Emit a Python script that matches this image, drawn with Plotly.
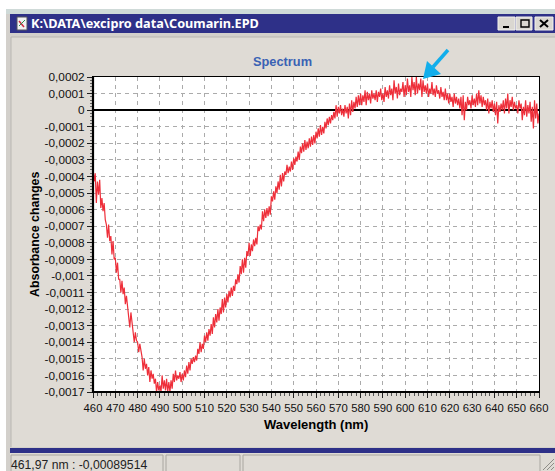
import numpy as np
import plotly.graph_objects as go

W, H = 555, 471
# Absorbance changes in units of 1e-4, one row per 10 nm (0.5 nm step)
absorbance_e4 = [
 -3.6,-4.3,-3.8,-5.6,-4.3,-5.1,-4.2,-5.9,-5.3,-6.1,-5.6,-6.6,-6.9,-7.7,-6.9,-7.9,-7.6,-8.7,-7.9,-9.0,
 -8.9,-9.8,-9.2,-10.2,-10.2,-11.0,-10.3,-11.1,-10.7,-11.7,-11.2,-11.9,-12.3,-13.1,-12.2,-12.9,-13.2,-14.0,-13.4,-13.9,
 -14.0,-14.6,-14.1,-14.5,-14.9,-15.7,-15.0,-15.6,-15.3,-16.0,-15.5,-16.4,-15.7,-16.2,-15.9,-16.5,-16.2,-17.0,-16.4,-16.9,
 -16.6,-17.0,-16.0,-16.8,-16.3,-16.9,-16.2,-17.0,-16.4,-17.0,-16.3,-16.8,-15.9,-16.4,-15.7,-16.3,-16.0,-16.2,-15.8,-16.4,
 -15.9,-16.3,-15.7,-16.1,-15.4,-15.9,-15.2,-15.7,-15.0,-15.3,-14.9,-15.2,-14.8,-15.1,-14.4,-14.7,-14.0,-14.6,-14.1,-14.4,
 -13.6,-14.0,-13.4,-13.9,-13.2,-13.6,-12.9,-13.5,-12.5,-13.1,-12.3,-12.8,-12.0,-12.7,-11.9,-12.3,-11.4,-12.2,-11.3,-11.9,
 -11.1,-11.6,-10.9,-11.3,-10.7,-11.2,-10.6,-10.9,-10.2,-10.5,-9.9,-10.4,-9.4,-9.9,-9.0,-9.8,-8.9,-9.5,-8.5,-8.8,
 -8.0,-8.8,-8.1,-8.5,-7.8,-8.2,-7.7,-8.1,-7.0,-7.3,-6.9,-7.2,-6.1,-6.7,-6.0,-6.5,-5.9,-6.4,-5.8,-6.3,
 -5.2,-5.5,-4.9,-5.4,-4.6,-5.0,-4.3,-4.8,-3.9,-4.6,-3.8,-4.3,-3.7,-3.9,-3.3,-3.8,-3.4,-3.7,-3.1,-3.6,
 -2.9,-3.3,-2.8,-3.1,-2.5,-3.0,-2.2,-2.6,-2.0,-2.5,-1.8,-2.4,-1.9,-2.3,-1.7,-2.2,-1.6,-2.1,-1.5,-2.0,
 -1.3,-1.7,-1.1,-1.6,-.9,-1.5,-1.0,-1.4,-.7,-1.1,-.5,-.9,-.4,-.8,-.3,-.6,-.1,-.5,.3,-.4,
 .2,-.2,.3,-.3,.1,-.4,.3,-.2,.2,-.5,.4,-.3,.6,-.1,.5,.1,.8,.2,.9,.3,
 1.0,.3,.9,.5,1.2,.3,1.1,.6,1.0,.4,1.2,.7,1.0,.6,1.2,.5,1.1,.8,1.3,.6,
 1.0,.5,1.4,.8,1.2,.7,1.5,.9,1.3,.6,1.8,1.0,1.4,.7,1.6,.9,1.3,1.1,1.7,.8,
 1.5,.9,1.9,1.1,1.5,.8,2.0,1.2,1.7,.9,2.0,1.0,1.6,1.2,1.9,.8,1.8,1.1,1.5,1.0,
 1.6,.8,1.3,1.0,1.7,.9,1.3,.8,1.5,1.0,1.2,.7,1.4,.8,1.1,.6,1.3,.6,1.0,.4,
 1.0,.5,.8,.2,1.0,.4,.8,.3,.7,.1,.8,-.3,.9,-.6,.5,.0,.8,.3,.6,.1,
 .9,.3,.7,.2,1.0,.3,1.2,.4,.9,.2,.8,.3,.6,.0,.7,-.2,.5,.1,.6,-.1,
 .4,-.3,.5,-.8,.3,-.1,.4,.0,.6,-.2,.7,.1,1.0,-.2,.6,.2,.8,.0,.5,.1,
 .3,-.2,.6,.1,.4,-.6,.2,-.3,.6,-.4,.3,-.2,.5,-.7,.2,-1.1,.6,-.5,.4,-.8,-.2,
]
wavelength = [460 + 0.5 * i for i in range(len(absorbance_e4))]
absorbance = [v * 1e-4 for v in absorbance_e4]

x_ticks = list(range(460, 661, 10))
y_tick_vals = [round(k * 1e-4, 4) for k in range(2, -18, -1)]
y_tick_text = ["0,0002","0,0001","0","-0,0001","-0,0002","-0,0003","-0,0004","-0,0005","-0,0006",
               "-0,0007","-0,0008","-0,0009","-0,001","-0,0011","-0,0012","-0,0013","-0,0014",
               "-0,0015","-0,0016","-0,0017"]

L, R, T, B = 93, 539, 77, 392
FONT = "Liberation Sans"
BG = "#DFDBD5"
NAVY = "#2E3088"

def px(x): return (x - L) / (R - L)
def py(y): return (B - y) / (B - T)
shapes = []
def rect(x0, y0, x1, y1, fill=None, line=None, lw=1, layer="below"):
    shapes.append(dict(type="rect", xref="paper", yref="paper", x0=px(x0), x1=px(x1), y0=py(y0), y1=py(y1),
                       fillcolor=fill or "rgba(0,0,0,0)", line=dict(color=line or "rgba(0,0,0,0)", width=lw if line else 0), layer=layer))
def seg(x0, y0, x1, y1, color, lw=1, layer="below"):
    shapes.append(dict(type="line", xref="paper", yref="paper", x0=px(x0), x1=px(x1), y0=py(y0), y1=py(y1),
                       line=dict(color=color, width=lw), layer=layer))

# window chrome
rect(6, 9, 555, 471, fill="#D3D0CB")
rect(6, 9, 555, 14, fill="#CFDAD8")
rect(10, 14, 555, 33, fill=NAVY)
rect(11, 37, 555, 447, fill=BG)
seg(11, 37, 555, 37, "#B9B7B2", 1)
seg(11, 37, 11, 447, "#B9B7B2", 1)
rect(10, 448, 555, 453, fill=NAVY)
rect(10, 453, 555, 471, fill=BG)
rect(11, 455, 163, 472, line="#A9A6A0")
rect(166, 455, 240, 472, line="#A9A6A0")
rect(243, 455, 540, 472, line="#A9A6A0")
rect(L, T, R, B, fill="white")
# title bar icon
rect(17, 17, 27, 30, fill="#F2F2F2", line="#55555F")
seg(19, 21, 24, 27, "#D02A40", 1.5, "above")
seg(19, 26, 25, 20, "#2F8F50", 1, "above")
# title bar buttons
for a, b in [(498, 515), (516, 532), (535, 553)]:
    rect(a, 17, b, 30, fill="#DAD7D1", line="#F2F1EE")
seg(503, 27, 509, 27, "#000", 2, "above")
rect(521, 20, 529, 27, line="#000", lw=1.4, layer="above")
seg(540, 20, 548, 27, "#000", 2, "above")
seg(548, 20, 540, 27, "#000", 2, "above")
# resize grip
for d in (3, 7, 11):
    seg(554 - d, 470, 554, 470 - d, "#8E8C87", 1)
# heavier left and bottom plot frame
seg(L, T, L, B, "#000", 2.2, "above")
seg(L, B, R, B, "#000", 2.2, "above")
# cyan arrow
seg(448, 50, 433, 67, "#12AEEB", 3.5, "above")
shapes.append(dict(type="path", xref="paper", yref="paper", layer="above", fillcolor="#12AEEB",
                   line=dict(color="#12AEEB", width=0),
                   path=f"M {px(423)} {py(79)} L {px(427)} {py(61)} L {px(441)} {py(74)} Z"))

def txt(x, y, s, size, color="#000", bold=False, anchor="left", family=FONT):
    return dict(xref="paper", yref="paper", x=px(x), y=py(y), text=f"<b>{s}</b>" if bold else s, showarrow=False,
                xanchor=anchor, yanchor="middle", font=dict(family=family, size=size, color=color),
                xshift=0, borderpad=0, borderwidth=0)

annotations = [
    txt(31, 23.5, "K:\\DATA\\excipro data\\Coumarin.EPD", 12.7, "#FFFFFF", True, family="Noto Sans"),
    txt(282, 62, "Spectrum", 12.8, "#3A62B4", True, "center"),
    txt(316, 424, "Wavelength (nm)", 13, "#000", True, "center"),
    txt(11, 465, "461,97 nm : -0,00089514", 12.2, "#222"),
]
annotations.append(dict(xref="paper", yref="paper", x=px(35), y=py(235), text="<b>Absorbance changes</b>", textangle=-90,
                        showarrow=False, xanchor="center", yanchor="middle",
                        font=dict(family=FONT, size=12.4, color="#000")))

fig = go.Figure(go.Scatter(x=wavelength, y=absorbance, mode="lines",
                           line=dict(color="#EE2F3A", width=1.2), hoverinfo="skip"))
fig.update_layout(
    width=W, height=H, autosize=False, showlegend=False,
    margin=dict(l=L, r=W - R, t=T, b=H - B, pad=0, autoexpand=False),
    paper_bgcolor="white", plot_bgcolor="white",
    font=dict(family=FONT, size=11, color="#111"),
    shapes=shapes, annotations=annotations,
)
fig.update_xaxes(range=[460, 660], tickmode="array", tickvals=x_ticks, ticktext=[str(v) for v in x_ticks],
                 ticks="outside", ticklen=5, tickcolor="#222", tickwidth=1, automargin=False,
                 tickfont=dict(family=FONT, size=11.3, color="#111"),
                 showline=True, linecolor="#000", linewidth=1, mirror=True,
                 showgrid=True, gridcolor="#ABABAB", griddash="4px,4px", gridwidth=1, zeroline=False,
                 minor=dict(tickmode="linear", tick0=460, dtick=2, ticks="outside", ticklen=3, tickcolor="#555", showgrid=False))
fig.update_yaxes(range=[-0.0017, 0.0002], tickmode="array", tickvals=y_tick_vals, ticktext=y_tick_text,
                 ticks="outside", ticklen=5, tickcolor="#222", tickwidth=1, automargin=False,
                 tickfont=dict(family=FONT, size=11.8, color="#111"),
                 showline=True, linecolor="#000", linewidth=1, mirror=True,
                 showgrid=True, gridcolor="#ABABAB", griddash="4px,4px", gridwidth=1,
                 zeroline=True, zerolinecolor="#000", zerolinewidth=2,
                 minor=dict(tickmode="linear", tick0=0, dtick=0.00002, ticks="outside", ticklen=2, tickcolor="#666", showgrid=False))
fig.write_html("out.html", post_script="document.body.style.margin='0';document.documentElement.style.overflow='hidden';",
               config=dict(displayModeBar=False))
